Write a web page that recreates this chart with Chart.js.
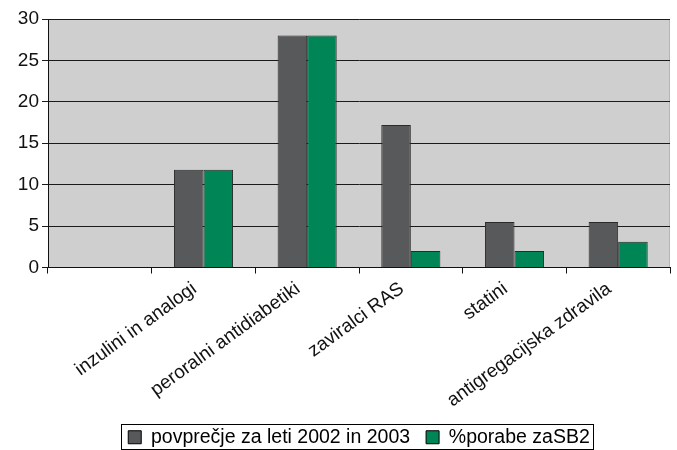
<!DOCTYPE html>
<html>
<head>
<meta charset="utf-8">
<script src="https://cdn.jsdelivr.net/npm/chart.js@4"></script>
<style>
  html, body { margin: 0; padding: 0; background: #fff; }
  #wrap { width: 677px; height: 450px; }
</style>
</head>
<body>
<div id="wrap"><canvas id="chart"></canvas></div>
<script>
// ========= Data =========
const categories = ["", "inzulini in analogi", "peroralni antidiabetiki", "zaviralci RAS", "statini", "antigregacijska zdravila"];
const avg2002_2003 = [null, 11.8, 28, 17.2, 5.5, 5.5];
const usageSB2 = [null, 11.8, 28, 2, 2, 3.1];
const seriesNames = ["povprečje za leti 2002 in 2003", "%porabe zaSB2"];
const yTicks = [0, 5, 10, 15, 20, 25, 30];

// ========= Plugins =========
const plotBackground = {
    id: "plotBackground",
    beforeDraw(chart) {
        const { ctx, chartArea: a } = chart;
        ctx.save();
        ctx.fillStyle = "#cfcfcf";
        ctx.fillRect(a.left, a.top, a.right - a.left, a.bottom - a.top);
        ctx.strokeStyle = "#b5b5b5";
        ctx.lineWidth = 1;
        ctx.beginPath();
        ctx.moveTo(a.left, a.top + 0.5);
        ctx.lineTo(a.right - 0.5, a.top + 0.5);
        ctx.lineTo(a.right - 0.5, a.bottom);
        ctx.stroke();
        ctx.restore();
    },
};

// legend sits centred under the plot area, with a thin frame round it
const legendFrame = {
    id: "legendFrame",
    afterLayout(chart) {
        const l = chart.legend;
        const a = chart.chartArea;
        const shift = (a.left + a.right) / 2 - (l.left + l.right) / 2;
        l.left += shift;
        l.right += shift;
        l.legendHitBoxes.forEach((b) => (b.left += shift));
    },
    afterDraw(chart) {
        const boxes = chart.legend.legendHitBoxes;
        if (!boxes || !boxes.length) return;
        const first = boxes[0];
        const last = boxes[boxes.length - 1];
        const ctx = chart.ctx;
        ctx.save();
        ctx.strokeStyle = "#000";
        ctx.lineWidth = 1;
        const mid = first.top + first.height / 2;
        const x = Math.round(first.left - 7) + 0.5;
        const y = Math.round(mid - 13) + 0.5;
        const w = Math.round(last.left + last.width + 4 - x);
        ctx.strokeRect(x, y, w, 25);
        ctx.restore();
    },
};

// ========= Chart =========
Chart.defaults.font.family = "'Liberation Sans', Arial, sans-serif";
Chart.defaults.color = "#111";

new Chart(document.getElementById("chart"), {
    type: "bar",
    data: {
        labels: categories,
        datasets: [
            {
                label: seriesNames[0],
                data: avg2002_2003,
                backgroundColor: "#58595b",
                borderColor: "#2a2a2a",
                borderWidth: 1,
            },
            {
                label: seriesNames[1],
                data: usageSB2,
                backgroundColor: "#008556",
                borderColor: "#2a2a2a",
                borderWidth: 1,
            },
        ],
    },
    options: {
        responsive: true,
        maintainAspectRatio: false,
        animation: false,
        datasets: {
            bar: { categoryPercentage: 0.57, barPercentage: 1 },
        },
        layout: {
            padding: { left: 0, right: 7, top: 19, bottom: -7 },
        },
        plugins: {
            legend: {
                position: "bottom",
                labels: {
                    boxWidth: 13,
                    boxHeight: 13,
                    padding: 16,
                    color: "#111",
                    font: { size: 19.5 },
                    generateLabels(chart) {
                        return chart.data.datasets.map((ds, i) => ({
                            text: ds.label,
                            fillStyle: ds.backgroundColor,
                            strokeStyle: "#000",
                            lineWidth: 1,
                            datasetIndex: i,
                        }));
                    },
                },
            },
            tooltip: { enabled: false },
        },
        scales: {
            x: {
                grid: {
                    drawOnChartArea: false,
                    drawTicks: true,
                    tickLength: 6,
                    color: "#111",
                },
                border: { color: "#111", width: 1 },
                ticks: {
                    minRotation: 36,
                    maxRotation: 36,
                    autoSkip: false,
                    color: "#111",
                    font: { size: 19 },
                    padding: 4,
                    labelOffset: -9,
                },
                afterFit(scale) {
                    scale.height = 144;
                },
            },
            y: {
                min: 0,
                max: 30,
                afterBuildTicks(scale) {
                    scale.ticks = yTicks.map((v) => ({ value: v }));
                },
                grid: {
                    color: "#1a1a1a",
                    tickLength: 6,
                },
                border: { color: "#111", width: 1 },
                ticks: {
                    color: "#111",
                    font: { size: 19 },
                    padding: 3,
                },
                afterFit(scale) {
                    scale.width = 48;
                },
            },
        },
    },
    plugins: [plotBackground, legendFrame],
});
</script>
</body>
</html>
